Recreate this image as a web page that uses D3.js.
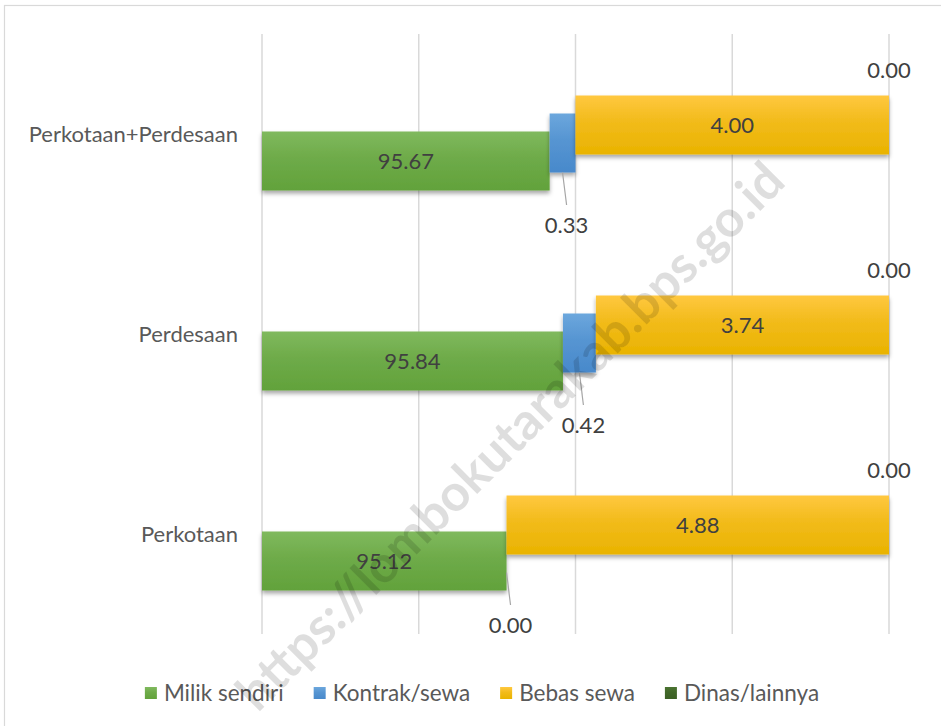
<!DOCTYPE html>
<meta charset="utf-8">
<style>
    body { margin: 0; background: #fff; }
    text { font-family: Lato, "Noto Sans", sans-serif; }
    .cat { fill: #595959; font-size: 22px; }
    .lbl { fill: #404040; font-size: 22px; }
    .leg { fill: #595959; font-size: 22.5px; }
</style>
<svg width="941" height="726"></svg>
<script src="https://d3js.org/d3.v7.min.js"></script>
<script>
    var categories = ["Perkotaan+Perdesaan", "Perdesaan", "Perkotaan"];
    var seriesNames = ["Milik sendiri", "Kontrak/sewa", "Bebas sewa", "Dinas/lainnya"];
    var milikSendiri = [95.67, 95.84, 95.12];
    var kontrakSewa = [0.33, 0.42, 0.00];
    var bebasSewa = [4.00, 3.74, 4.88];
    var dinasLainnya = [0.00, 0.00, 0.00];
    var xTicks = [92, 94, 96, 98, 100];
    var colors = [["#80b95e", "#62a23b"], ["#6ca7dd", "#4889cb"], ["#ffc840", "#e9b300"], ["#4a7331", "#3b5f24"]];

    var svg = d3.select("svg"),
        width = +svg.attr("width"),
        height = +svg.attr("height");

    var rows = categories.map(function (c, i) {
        return { cat: c, "Milik sendiri": milikSendiri[i], "Kontrak/sewa": kontrakSewa[i],
                 "Bebas sewa": bebasSewa[i], "Dinas/lainnya": dinasLainnya[i] };
    });
    var stacked = d3.stack().keys(seriesNames)(rows);

    var x = d3.scaleLinear().domain([92, 100]).range([262, 889]).clamp(true);
    var y = d3.scaleBand().domain(categories).range([34, 634]);
    var off = d3.scalePoint().domain(seriesNames).range([27, -27]);
    var barH = 59;

    // frame
    svg.append("rect").attr("x", 4.5).attr("y", 5.5).attr("width", 945).attr("height", 730)
        .attr("fill", "none").attr("stroke", "#d9d9d9").attr("stroke-width", 1.2);

    var defs = svg.append("defs");
    colors.forEach(function (c, i) {
        var gr = defs.append("linearGradient").attr("id", "g" + i)
            .attr("x1", 0).attr("y1", 0).attr("x2", 0).attr("y2", 1);
        gr.append("stop").attr("offset", "0%").attr("stop-color", c[0]);
        gr.append("stop").attr("offset", "45%").attr("stop-color", d3.interpolateRgb(c[0], c[1])(0.6));
        gr.append("stop").attr("offset", "100%").attr("stop-color", c[1]);
    });
    var f = defs.append("filter").attr("id", "shadow").attr("x", "-10%").attr("y", "-20%")
        .attr("width", "120%").attr("height", "150%");
    f.append("feDropShadow").attr("dx", 0).attr("dy", 3).attr("stdDeviation", 2.2)
        .attr("flood-color", "#000").attr("flood-opacity", 0.35);

    // gridlines
    svg.append("g").selectAll("line").data(xTicks).join("line")
        .attr("x1", d => x(d)).attr("x2", d => x(d))
        .attr("y1", 34).attr("y2", 634)
        .attr("stroke", "#d9d9d9").attr("stroke-width", 1.5);

    // bars
    stacked.forEach(function (s, si) {
        svg.append("g").attr("filter", "url(#shadow)")
            .selectAll("rect").data(s).join("rect")
            .attr("x", d => x(d[0]))
            .attr("width", d => x(d[1]) - x(d[0]))
            .attr("y", d => y(d.data.cat) + y.bandwidth() / 2 + off(s.key) - barH / 2)
            .attr("height", barH)
            .attr("fill", "url(#g" + si + ")");
    });

    // category labels
    svg.append("g").selectAll("text").data(categories).join("text")
        .attr("class", "cat")
        .attr("x", 238)
        .attr("y", d => y(d) + y.bandwidth() / 2)
        .attr("dy", "0.35em")
        .attr("text-anchor", "end")
        .text(d => d);

    // labels inside bars (green, yellow)
    [0, 2].forEach(function (si) {
        var s = stacked[si];
        svg.append("g").selectAll("text").data(s).join("text")
            .attr("class", "lbl")
            .attr("x", d => (x(d[0]) + x(d[1])) / 2)
            .attr("y", d => y(d.data.cat) + y.bandwidth() / 2 + off(s.key))
            .attr("dy", "0.35em")
            .attr("text-anchor", "middle")
            .text(d => d3.format(".2f")(d[1] - d[0]));
    });

    // kontrak/sewa labels with leader lines
    var ks = stacked[1];
    var gk = svg.append("g");
    gk.selectAll("line").data(ks).join("line")
        .attr("x1", d => (x(d[0]) + x(d[1])) / 2)
        .attr("y1", d => y(d.data.cat) + y.bandwidth() / 2 + off(ks.key) + barH / 2)
        .attr("x2", d => (x(d[0]) + x(d[1])) / 2 + 4)
        .attr("y2", d => y(d.data.cat) + y.bandwidth() / 2 + 71)
        .attr("stroke", "#a6a6a6").attr("stroke-width", 1.2);
    gk.selectAll("text").data(ks).join("text")
        .attr("class", "lbl")
        .attr("x", d => (x(d[0]) + x(d[1])) / 2 + 4)
        .attr("y", d => y(d.data.cat) + y.bandwidth() / 2 + 91)
        .attr("dy", "0.35em")
        .attr("text-anchor", "middle")
        .text(d => d3.format(".2f")(d[1] - d[0]));

    // dinas/lainnya labels
    var dl = stacked[3];
    svg.append("g").selectAll("text").data(dl).join("text")
        .attr("class", "lbl")
        .attr("x", d => x(d[1]))
        .attr("y", d => y(d.data.cat) + 36)
        .attr("dy", "0.35em")
        .attr("text-anchor", "middle")
        .text(d => d3.format(".2f")(d[1] - d[0]));

    // legend
    var leg = svg.append("g");
    var items = leg.selectAll("g").data(seriesNames).join("g");
    items.append("rect").attr("width", 12).attr("height", 12).attr("y", 687)
        .attr("fill", (d, i) => "url(#g" + i + ")");
    items.append("text").attr("class", "leg").attr("x", 19).attr("y", 693).attr("dy", "0.35em").text(d => d);
    var gap = 30, pos = 0, xs = [];
    items.each(function () {
        xs.push(pos);
        pos += 19 + d3.select(this).select("text").node().getComputedTextLength() + gap;
    });
    var total = pos - gap, start = 482 - total / 2;
    items.attr("transform", (d, i) => "translate(" + (start + xs[i]) + ",0)");

    // watermark
    svg.append("text")
        .attr("transform", "translate(510,436) rotate(-45)")
        .attr("text-anchor", "middle")
        .attr("dy", "0.35em")
        .attr("font-size", 51)
        .attr("font-weight", "bold")
        .attr("fill", "#000").attr("fill-opacity", 0.13)
        .text("https://lombokutarakab.bps.go.id");
</script>
